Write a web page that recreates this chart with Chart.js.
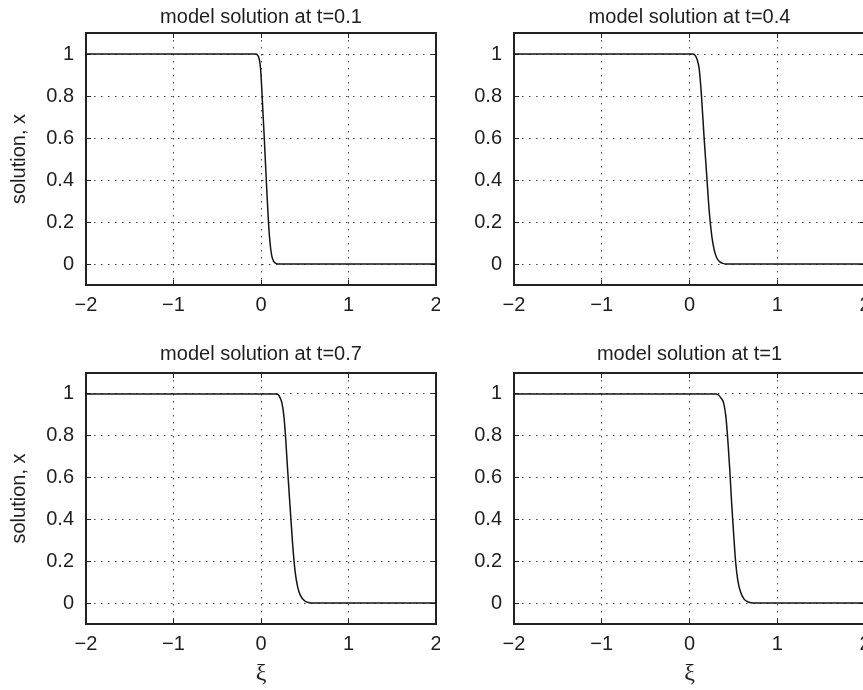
<!DOCTYPE html>
<html><head><meta charset="utf-8">
<script src="https://cdn.jsdelivr.net/npm/chart.js@4/dist/chart.umd.min.js"></script>
<style>
html,body{margin:0;padding:0;background:#fff;width:863px;height:690px;overflow:hidden;}
#wrap{position:relative;width:863px;height:690px;overflow:hidden;background:#fff;}
canvas{position:absolute;}
</style></head><body>
<div id="wrap">
<canvas id="c1" width="440" height="330" style="left:0px;top:0px;width:440px;height:330px"></canvas>
<canvas id="c2" width="430" height="330" style="left:440px;top:0px;width:430px;height:330px"></canvas>
<canvas id="c3" width="440" height="360" style="left:0px;top:330px;width:440px;height:360px"></canvas>
<canvas id="c4" width="430" height="360" style="left:440px;top:330px;width:430px;height:360px"></canvas>
</div>
<script>
// ---- data ----
const titles = ['model solution at t=0.1','model solution at t=0.4','model solution at t=0.7','model solution at t=1'];
const xTicks = [-2, -1, 0, 1, 2];
const xTickLabels = ['\u22122', '\u22121', '0', '1', '2'];
const yTicks = [0, 0.2, 0.4, 0.6, 0.8, 1];
const yTickLabels = ['0', '0.2', '0.4', '0.6', '0.8', '1'];

const xi01 = [-2, -0.06, -0.04, -0.02, -0.005, 0.008, 0.02, 0.035, 0.05, 0.065, 0.08, 0.095, 0.11, 0.125, 0.145, 0.17, 0.2, 2];
const x01  = [1, 1, 0.995, 0.975, 0.93, 0.84, 0.74, 0.62, 0.49, 0.36, 0.24, 0.14, 0.075, 0.035, 0.012, 0.003, 0, 0];

const xi04 = [-2, 0.04, 0.07, 0.09, 0.11, 0.135, 0.165, 0.195, 0.225, 0.255, 0.28, 0.31, 0.345, 0.38, 0.42, 2];
const x04  = [1, 1, 0.99, 0.97, 0.93, 0.81, 0.61, 0.43, 0.25, 0.13, 0.07, 0.03, 0.01, 0.003, 0, 0];

const xi07 = [-2, 0.17, 0.2, 0.22, 0.24, 0.26, 0.28, 0.3, 0.33, 0.36, 0.39, 0.42, 0.45, 0.5, 0.55, 0.6, 2];
const x07  = [1, 1, 0.995, 0.98, 0.955, 0.9, 0.8, 0.665, 0.475, 0.29, 0.15, 0.075, 0.037, 0.01, 0.002, 0, 0];

const xi10 = [-2, 0.3, 0.33, 0.36, 0.39, 0.415, 0.44, 0.46, 0.48, 0.5, 0.525, 0.55, 0.58, 0.62, 0.67, 0.73, 2];
const x10  = [1, 1, 0.995, 0.98, 0.955, 0.89, 0.76, 0.63, 0.48, 0.35, 0.2, 0.11, 0.055, 0.02, 0.005, 0, 0];

// ---- styling ----
const FONT = "'Liberation Sans', Arial, Helvetica, sans-serif";
const TXT = '#1e1e1e';
const AX = '#222';
const GRID = '#444';

function build(id, title, xs, ys, cfg) {
  const pts = xs.map((v, i) => ({x: v, y: ys[i]}));
  const tickFont = {family: FONT, size: 20};
  const gridCommon = {color: GRID, lineWidth: 1, tickLength: -5, tickColor: AX, tickWidth: 1, tickBorderDash: []};
  const borderCommon = {display: true, color: AX, width: 2, dash: [1.5, 5.5]};
  const setX = s => { s.ticks = xTicks.map(v => ({value: v})); };
  const setY = s => { s.ticks = yTicks.map(v => ({value: v})); };
  const noPad = s => { s.paddingLeft = 0; s.paddingRight = 0; s.paddingTop = 0; s.paddingBottom = 0; };
  return new Chart(document.getElementById(id), {
    type: 'line',
    data: {datasets: [{data: pts, xAxisID: 'x', yAxisID: 'y', borderColor: '#151515', borderWidth: 1.5,
      pointRadius: 0, cubicInterpolationMode: 'monotone', fill: false}]},
    options: {
      responsive: false, animation: false, devicePixelRatio: 1,
      layout: {padding: 0},
      plugins: {
        legend: {display: false}, tooltip: {enabled: false},
        title: {display: true, text: title, fullSize: false, color: TXT,
          font: {family: FONT, size: 20, weight: 'normal'}, padding: {top: cfg.tTop, bottom: cfg.tBot}}
      },
      scales: {
        x: {type: 'linear', position: 'bottom', min: -2, max: 2, afterBuildTicks: setX,
          ticks: {callback: (v, i) => xTickLabels[i], color: TXT, font: tickFont, padding: 13, maxRotation: 0, autoSkip: false},
          grid: Object.assign({}, gridCommon), border: Object.assign({}, borderCommon),
          title: {display: cfg.xTitle, text: '\u03BE', color: TXT, font: {family: "'Liberation Serif', 'DejaVu Serif', serif", size: 24}, padding: {top: 0, bottom: 2}},
          afterFit: s => { s.height = cfg.xH; noPad(s); }},
        x2: {type: 'linear', position: 'top', min: -2, max: 2, afterBuildTicks: setX,
          ticks: {display: false},
          grid: Object.assign({}, gridCommon, {drawOnChartArea: false}), border: Object.assign({}, borderCommon),
          afterFit: s => { s.height = 0; noPad(s); }},
        y: {type: 'linear', position: 'left', min: -0.1, max: 1.1, afterBuildTicks: setY,
          ticks: {callback: (v, i) => yTickLabels[i], color: TXT, font: tickFont, padding: 17, autoSkip: false},
          grid: Object.assign({}, gridCommon), border: Object.assign({}, borderCommon),
          title: {display: cfg.yTitle, text: 'solution, x', color: TXT, font: {family: FONT, size: 20}, padding: {top: 7, bottom: 0}},
          afterFit: s => { s.width = cfg.yW; noPad(s); }},
        y2: {type: 'linear', position: 'right', min: -0.1, max: 1.1, afterBuildTicks: setY,
          ticks: {display: false},
          grid: Object.assign({}, gridCommon, {drawOnChartArea: false}), border: Object.assign({}, borderCommon),
          afterFit: s => { s.width = cfg.y2W; noPad(s); }}
      }
    }
  });
}

build('c1', titles[0], xi01, x01, {tTop: 5, tBot: 4, xH: 45, yW: 86, y2W: 4, xTitle: false, yTitle: true});
build('c2', titles[1], xi04, x04, {tTop: 5, tBot: 4, xH: 45, yW: 74, y2W: 5, xTitle: false, yTitle: false});
build('c3', titles[2], xi07, x07, {tTop: 12, tBot: 7, xH: 66, yW: 86, y2W: 4, xTitle: true, yTitle: true});
build('c4', titles[3], xi10, x10, {tTop: 12, tBot: 7, xH: 66, yW: 74, y2W: 5, xTitle: true, yTitle: false});
</script>
</body></html>
